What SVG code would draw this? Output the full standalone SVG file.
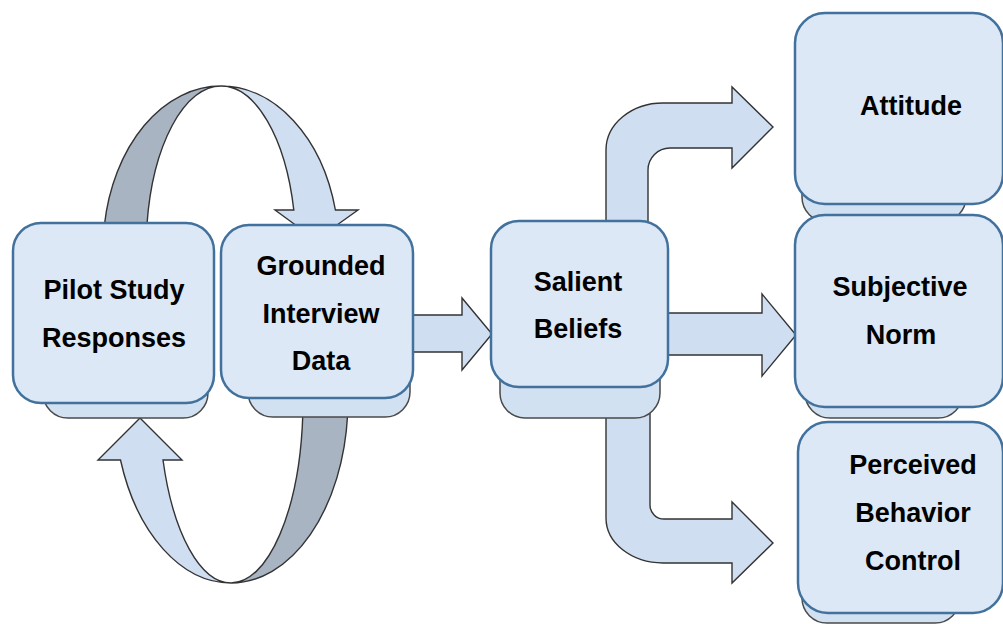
<svg xmlns="http://www.w3.org/2000/svg" width="1003" height="624" viewBox="0 0 1003 624">
  <style>
    .box { fill: #dce8f5; stroke: #41719c; stroke-width: 2.5; }
    .shadow { fill: #d2e1f1; stroke: #4a4a4a; stroke-width: 1.5; }
    .flow { fill: #cfdff1; stroke: #333333; stroke-width: 1.4; stroke-linejoin: miter; }
    .back { fill: #a8b4c2; stroke: #333333; stroke-width: 1.4; }
    .label { font-family: "Liberation Sans", Arial, sans-serif; font-weight: bold; font-size: 27px; fill: #000000; text-anchor: middle; }
  </style>
  <rect width="1003" height="624" fill="#ffffff"/>

  <!-- connectors -->
  <g id="connectors">
    <!-- upper loop: back face (left) and front face with head (right) -->
    <path class="back" d="M 104,240 L 104.4,225 A 118 164 0 0 1 221,86 A 75 164 0 0 0 146.9,225 L 147,240 Z"/>
    <path class="flow" d="M 221,86 A 118 164 0 0 1 335.4,210 L 358,210 L 316,240 L 275,210 L 293.8,210 A 75 164 0 0 0 221,86 Z"/>
    <!-- lower loop: back face (right) and front face with head (left) -->
    <path class="back" d="M 347.6,400 L 347.6,415 A 117 183 0 0 1 231,583 A 72 183 0 0 0 302.8,415 L 302.8,400 Z"/>
    <path class="flow" d="M 231,583 A 117 183 0 0 1 120.5,460 L 98,460 L 140,418 L 182,460 L 163,460 A 72 183 0 0 0 231,583 Z"/>
    <!-- Grounded Interview Data to Salient Beliefs -->
    <path class="flow" d="M 405,315 L 462,315 L 462,298 L 492,334 L 462,370 L 462,352 L 405,352 Z"/>
    <!-- Salient Beliefs to Attitude -->
    <path class="flow" d="M 606,235 L 606,150 A 57 47 0 0 1 663,103 L 732,103 L 732,87 L 773,127 L 732,168 L 732,148 L 670,148 A 22 22 0 0 0 648,170 L 648,235 Z"/>
    <!-- Salient Beliefs to Subjective Norm -->
    <path class="flow" d="M 660,313 L 762,313 L 762,294 L 796,335 L 762,376 L 762,355 L 660,355 Z"/>
    <!-- Salient Beliefs to Perceived Behavior Control -->
    <path class="flow" d="M 606,410 L 606,518 A 57 45 0 0 0 663,563 L 732,563 L 732,583 L 773,543 L 732,502 L 732,519 L 664,519 A 14 14 0 0 1 650,505 L 650,410 Z"/>
  </g>

  <g id="pilot">
    <rect class="shadow" x="43" y="330" width="165" height="88" rx="25"/>
    <rect class="box" x="13" y="223" width="201" height="180" rx="28"/>
    <text class="label" x="114" y="299">Pilot Study</text>
    <text class="label" x="114" y="347">Responses</text>
  </g>

  <g id="grounded">
    <rect class="shadow" x="248" y="330" width="162" height="87" rx="25"/>
    <rect class="box" x="221" y="225" width="192" height="173" rx="28"/>
    <text class="label" x="321" y="275">Grounded</text>
    <text class="label" x="321" y="323">Interview</text>
    <text class="label" x="321" y="370">Data</text>
  </g>

  <g id="salient">
    <rect class="shadow" x="500" y="320" width="160" height="98" rx="25"/>
    <rect class="box" x="491" y="221" width="177" height="166" rx="28"/>
    <text class="label" x="578" y="291">Salient</text>
    <text class="label" x="578" y="338">Beliefs</text>
  </g>

  <g id="attitude">
    <rect class="shadow" x="802" y="130" width="164" height="92" rx="25"/>
    <rect class="box" x="795" y="13" width="208" height="191" rx="30"/>
    <text class="label" x="911" y="115">Attitude</text>
  </g>

  <g id="subjective">
    <rect class="shadow" x="805" y="330" width="158" height="88" rx="25"/>
    <rect class="box" x="795" y="215" width="208" height="192" rx="30"/>
    <text class="label" x="900" y="296">Subjective</text>
    <text class="label" x="901" y="344">Norm</text>
  </g>

  <g id="perceived">
    <rect class="shadow" x="802" y="540" width="158" height="83" rx="25"/>
    <rect class="box" x="798" y="422" width="205" height="191" rx="30"/>
    <text class="label" x="913" y="474">Perceived</text>
    <text class="label" x="913" y="522">Behavior</text>
    <text class="label" x="913" y="570">Control</text>
  </g>
</svg>
